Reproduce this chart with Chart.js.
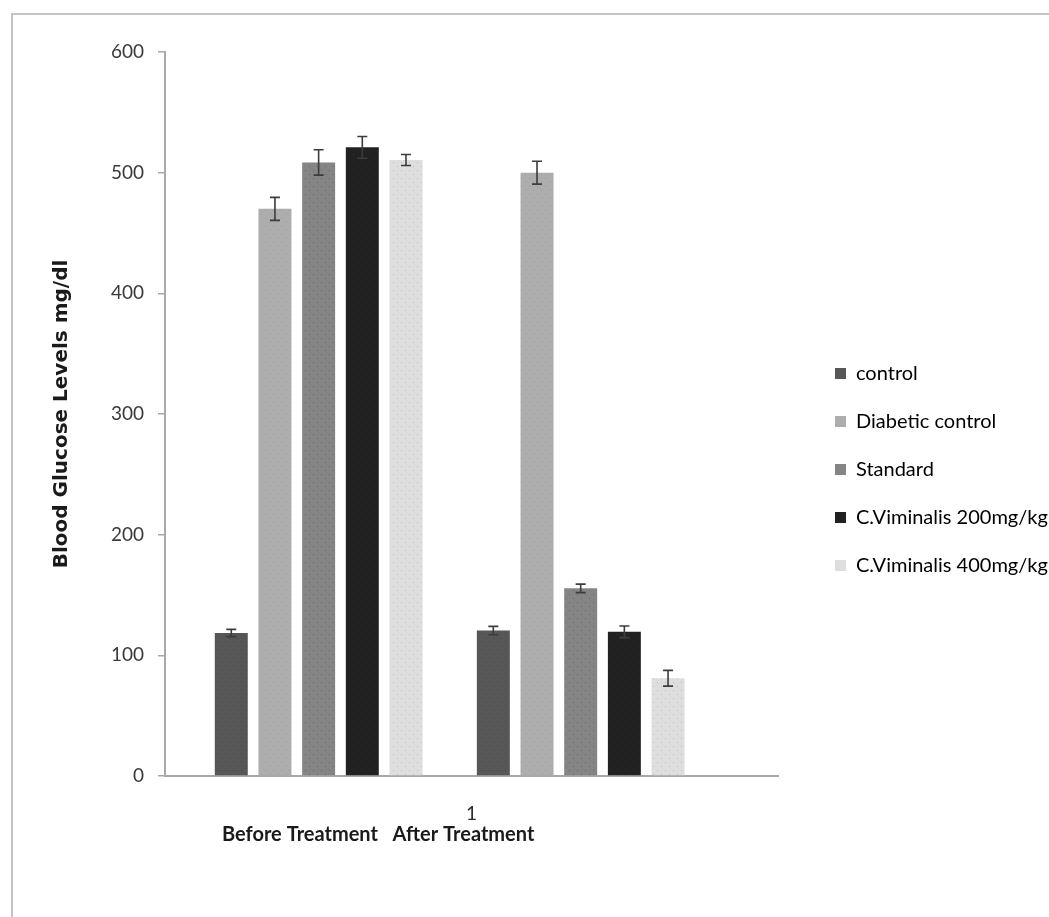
<!DOCTYPE html>
<html>
<head>
<meta charset="utf-8">
<script src="https://cdn.jsdelivr.net/npm/chart.js@4.4.1/dist/chart.umd.min.js"></script>
<style>
  html, body { margin: 0; padding: 0; background: #fff; overflow: hidden; }
  #frame {
    position: absolute; left: 11px; top: 13px; width: 1100px; height: 1000px;
    border-left: 2px solid #c4c4c4; border-top: 2px solid #c4c4c4;
  }
  #chart { position: absolute; left: 0; top: 0; }
</style>
</head>
<body>
<div id="frame"></div>
<canvas id="chart" width="1049" height="917"></canvas>
<script>
const groupNames = ["control", "Diabetic control", "Standard", "C.Viminalis 200mg/kg", "C.Viminalis 400mg/kg"];
const beforeMeans = [118.5, 470, 508.5, 521, 510.5];
const beforeErrors = [3, 9.5, 10.5, 9, 4.5];
const afterMeans = [120.5, 500, 155.5, 119.5, 81];
const afterErrors = [3.5, 9.5, 3.5, 4.8, 6.5];
const xLabels = ["1"];
const yTicks = [0, 100, 200, 300, 400, 500, 600];
const xCaption = "Before Treatment   After Treatment";
const yTitle = "Blood Glucose Levels mg/dl";

const solidColors = ["#575757", "#adadad", "#858585", "#212121", "#dedede"];
const dotColors = ["#474747", "#9a9a9a", "#6a6a6a", "#303030", "#bcbcc8"];

function makePattern(base, dot) {
  const tile = document.createElement("canvas");
  tile.width = 8;
  tile.height = 8;
  const c = tile.getContext("2d");
  c.fillStyle = base;
  c.fillRect(0, 0, 8, 8);
  c.fillStyle = dot;
  c.fillRect(1, 2, 1, 1);
  c.fillRect(5, 6, 1, 1);
  return c.createPattern(tile, "repeat");
}

const patterns = solidColors.map((col, i) => makePattern(col, dotColors[i]));

// 12 slots in the single category: 5 before, gap, 5 after, gap
const datasets = [];
groupNames.forEach((name, i) => {
  datasets.push({ label: name, data: [beforeMeans[i]], errors: [beforeErrors[i]], backgroundColor: patterns[i] });
});
datasets.push({ label: "", data: [null], errors: [null] });
groupNames.forEach((name, i) => {
  datasets.push({ label: name, data: [afterMeans[i]], errors: [afterErrors[i]], backgroundColor: patterns[i] });
});
datasets.push({ label: "", data: [null], errors: [null] });

const errorBars = {
  id: "errorBars",
  afterDatasetsDraw(chart) {
    const ctx = chart.ctx;
    const y = chart.scales.y;
    ctx.save();
    ctx.strokeStyle = "#3c3c3c";
    ctx.lineWidth = 1.6;
    chart.data.datasets.forEach((ds, di) => {
      const meta = chart.getDatasetMeta(di);
      meta.data.forEach((bar, j) => {
        const v = ds.data[j];
        const e = ds.errors[j];
        if (v == null || e == null) return;
        const top = y.getPixelForValue(v + e);
        const bottom = y.getPixelForValue(v - e);
        const cx = bar.x;
        ctx.beginPath();
        ctx.moveTo(cx, top);
        ctx.lineTo(cx, bottom);
        ctx.moveTo(cx - 5, top);
        ctx.lineTo(cx + 5, top);
        ctx.moveTo(cx - 5, bottom);
        ctx.lineTo(cx + 5, bottom);
        ctx.stroke();
      });
    });
    ctx.restore();
  },
};

const caption = {
  id: "caption",
  afterDraw(chart) {
    const ctx = chart.ctx;
    const area = chart.chartArea;
    ctx.save();
    ctx.font = "bold 20px Lato";
    ctx.fillStyle = "#1a1a1a";
    ctx.textBaseline = "middle";
    ctx.textAlign = "left";
    ctx.fillText(xCaption, area.left + 57, area.bottom + 59);
    ctx.restore();
  },
};

Chart.defaults.font.family = "Lato";

new Chart(document.getElementById("chart"), {
  type: "bar",
  data: { labels: xLabels, datasets },
  plugins: [errorBars, caption],
  options: {
    responsive: false,
    animation: false,
    layout: { padding: { top: 52, left: 10, right: 0, bottom: 30 } },
    datasets: { bar: { categoryPercentage: 0.855, barPercentage: 0.755 } },
    scales: {
      x: {
        grid: { display: false, drawTicks: false },
        border: { display: true, color: "#a8a8a8", width: 2 },
        ticks: { color: "#2a2a2a", font: { size: 19 }, padding: 26 },
        afterFit(scale) { scale.height = 111; },
      },
      y: {
        min: 0,
        max: 600,
        afterBuildTicks(scale) { scale.ticks = yTicks.map((v) => ({ value: v })); },
        grid: { drawOnChartArea: false, tickLength: 7, color: "#a8a8a8", lineWidth: 1.5 },
        border: { display: true, color: "#a8a8a8", width: 2 },
        ticks: { color: "#3a3a3a", font: { size: 19 }, padding: 14 },
        title: {
          display: true,
          text: yTitle,
          color: "#1a1a1a",
          font: { family: "DejaVu Sans", size: 20, weight: "bold" },
          padding: { top: 40, bottom: 0 },
        },
        afterFit(scale) { scale.width = 155; },
      },
      // empty strip between the plot and the legend
      gap: {
        position: "right",
        display: true,
        grid: { display: false, drawTicks: false },
        border: { display: false },
        ticks: { display: false },
        afterFit(scale) { scale.width = 29; },
      },
    },
    plugins: {
      tooltip: { enabled: false },
      legend: {
        position: "right",
        maxWidth: 242,
        labels: {
          boxWidth: 11,
          boxHeight: 11,
          padding: 28,
          color: "#333333",
          font: { size: 20 },
          generateLabels() {
            return groupNames.map((name, i) => ({
              text: name,
              fillStyle: solidColors[i],
              strokeStyle: solidColors[i],
              lineWidth: 0,
              hidden: false,
              datasetIndex: i,
            }));
          },
        },
      },
    },
  },
});
</script>
</body>
</html>
